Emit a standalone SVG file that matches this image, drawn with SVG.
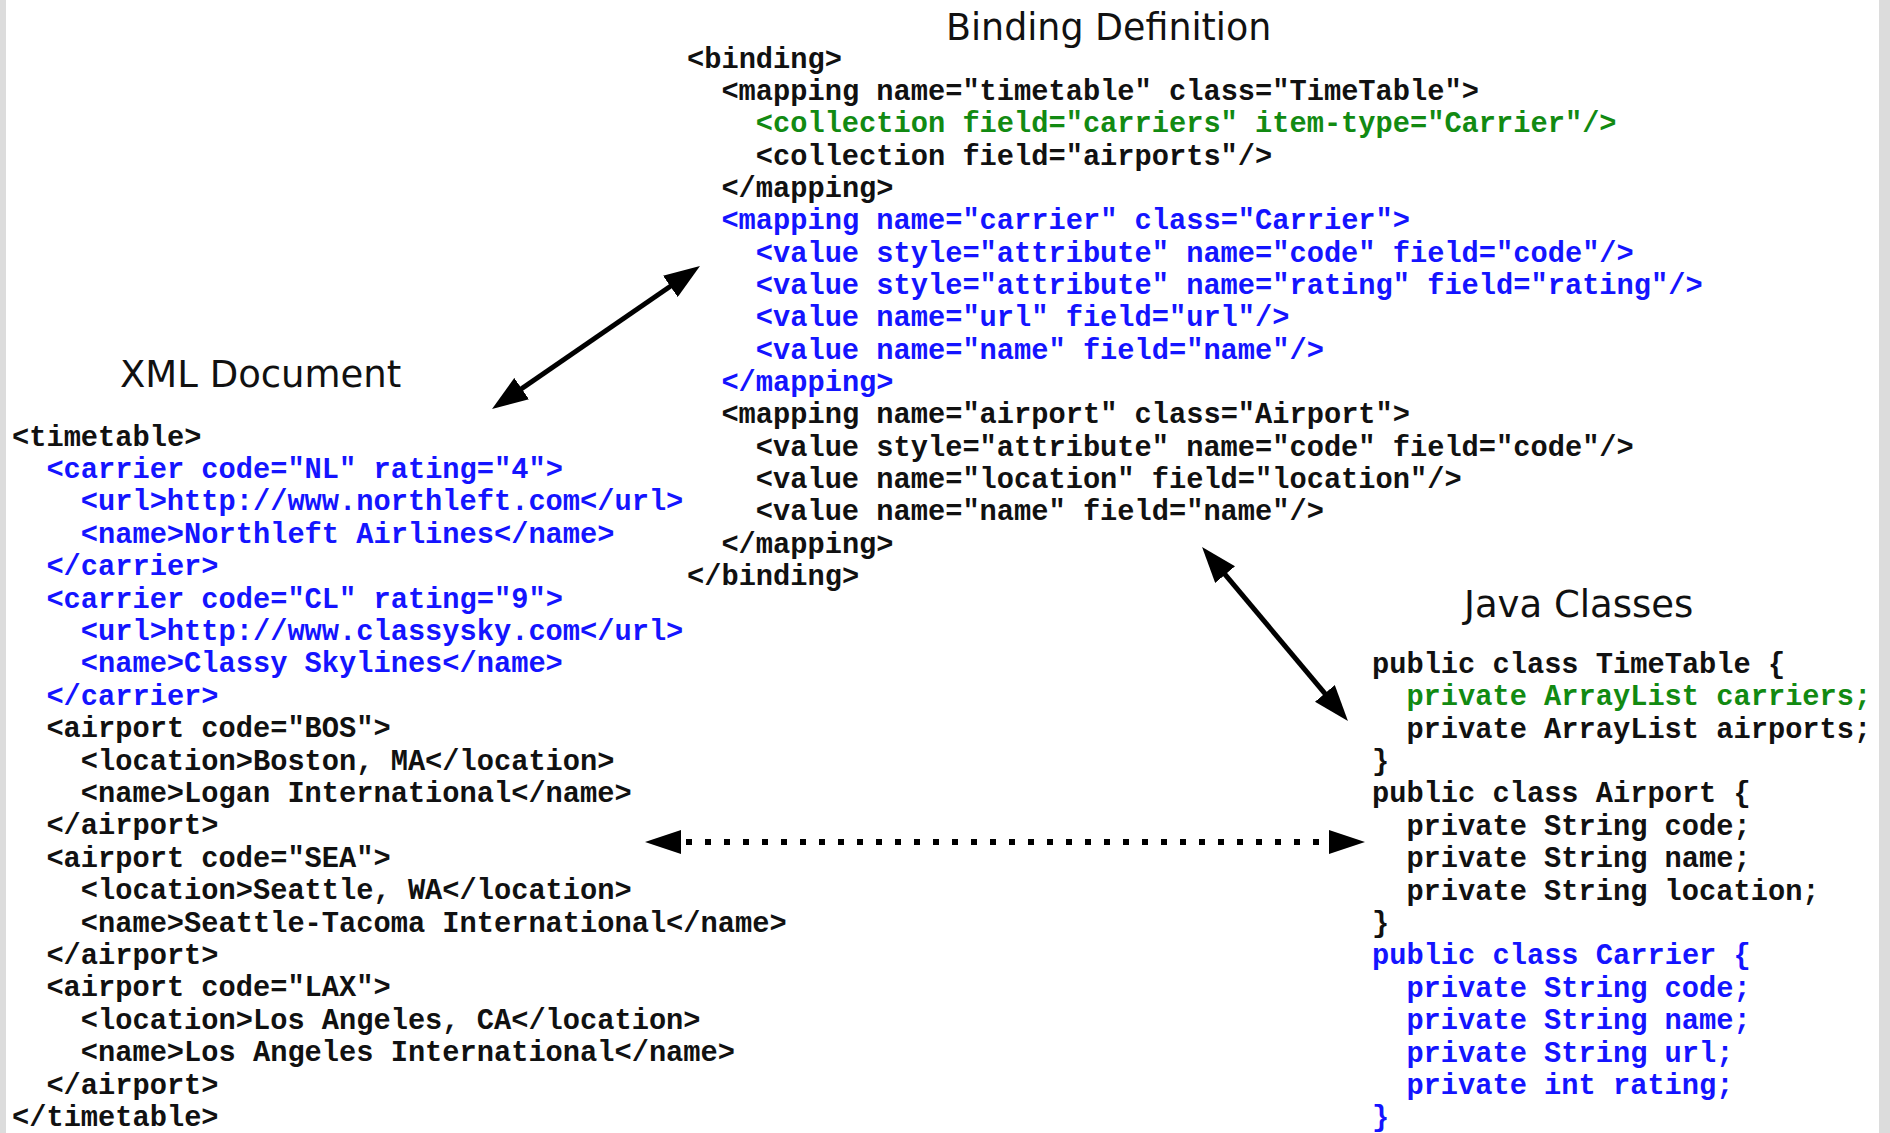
<svg xmlns="http://www.w3.org/2000/svg" width="1890" height="1133" viewBox="0 0 1890 1133">
<style>
.bg{fill:#ffffff}
.edge{fill:#dcdcdc}
.title{font-family:"DejaVu Sans",Verdana,sans-serif;font-size:37px;fill:#111111}
.code{font-family:"Liberation Mono","Courier New",monospace;font-size:28.7px;font-weight:bold;fill:#111111}
.blue{fill:#1414ff}
.green{fill:#128a12}
.conn{stroke:#000000;stroke-width:5;fill:none}
.dots{stroke:#000000;stroke-width:6;stroke-dasharray:6 13;fill:none}
</style>
<defs>
<marker id="head" viewBox="0 0 36 26" refX="16" refY="13" markerWidth="36" markerHeight="26" markerUnits="userSpaceOnUse" orient="auto-start-reverse">
<path d="M0,0 L36,13 L0,26 z" fill="#000000"/>
</marker>
<marker id="headDot" viewBox="0 0 36 24" refX="-5" refY="12" markerWidth="36" markerHeight="24" markerUnits="userSpaceOnUse" orient="auto-start-reverse">
<path d="M0,0 L36,12 L0,24 z" fill="#000000"/>
</marker>
</defs>
<rect class="bg" x="0" y="0" width="1890" height="1133"/>
<rect class="edge" x="0" y="0" width="6" height="1133"/>
<rect class="edge" x="1879" y="0" width="11" height="1133"/>

<g id="connectors">
<line class="conn" x1="508.5" y1="397.7" x2="683.5" y2="277.3" marker-start="url(#head)" marker-end="url(#head)"/>
<line class="conn" x1="1214.9" y1="562.3" x2="1335.1" y2="705.7" marker-start="url(#head)" marker-end="url(#head)"/>
<line class="dots" x1="686" y1="842" x2="1324" y2="842" marker-start="url(#headDot)" marker-end="url(#headDot)"/>
</g>

<g id="xml-document">
<text class="title" x="120" y="387">XML Document</text>
<g transform="translate(0,2.5)">
<text class="code" x="12" y="443">&lt;timetable&gt;</text>
<text class="code blue" x="46.4" y="475.4">&lt;carrier code="NL" rating="4"&gt;</text>
<text class="code blue" x="80.8" y="507.8">&lt;url&gt;http://www.northleft.com&lt;/url&gt;</text>
<text class="code blue" x="80.8" y="540.2">&lt;name&gt;Northleft Airlines&lt;/name&gt;</text>
<text class="code blue" x="46.4" y="572.6">&lt;/carrier&gt;</text>
<text class="code blue" x="46.4" y="605">&lt;carrier code="CL" rating="9"&gt;</text>
<text class="code blue" x="80.8" y="637.4">&lt;url&gt;http://www.classysky.com&lt;/url&gt;</text>
<text class="code blue" x="80.8" y="669.8">&lt;name&gt;Classy Skylines&lt;/name&gt;</text>
<text class="code blue" x="46.4" y="702.2">&lt;/carrier&gt;</text>
<text class="code" x="46.4" y="734.6">&lt;airport code="BOS"&gt;</text>
<text class="code" x="80.8" y="767">&lt;location&gt;Boston, MA&lt;/location&gt;</text>
<text class="code" x="80.8" y="799.4">&lt;name&gt;Logan International&lt;/name&gt;</text>
<text class="code" x="46.4" y="831.8">&lt;/airport&gt;</text>
<text class="code" x="46.4" y="864.2">&lt;airport code="SEA"&gt;</text>
<text class="code" x="80.8" y="896.6">&lt;location&gt;Seattle, WA&lt;/location&gt;</text>
<text class="code" x="80.8" y="929">&lt;name&gt;Seattle-Tacoma International&lt;/name&gt;</text>
<text class="code" x="46.4" y="961.4">&lt;/airport&gt;</text>
<text class="code" x="46.4" y="993.8">&lt;airport code="LAX"&gt;</text>
<text class="code" x="80.8" y="1026.2">&lt;location&gt;Los Angeles, CA&lt;/location&gt;</text>
<text class="code" x="80.8" y="1058.6">&lt;name&gt;Los Angeles International&lt;/name&gt;</text>
<text class="code" x="46.4" y="1091">&lt;/airport&gt;</text>
<text class="code" x="12" y="1123.4">&lt;/timetable&gt;</text>
</g>
</g>

<g id="binding-definition">
<text class="title" x="946" y="40" style="font-size:36.4px">Binding Definition</text>
<g transform="translate(0,1.5)">
<text class="code" x="687" y="66">&lt;binding&gt;</text>
<text class="code" x="721.4" y="98.35">&lt;mapping name="timetable" class="TimeTable"&gt;</text>
<text class="code green" x="755.8" y="130.7">&lt;collection field="carriers" item-type="Carrier"/&gt;</text>
<text class="code" x="755.8" y="163.05">&lt;collection field="airports"/&gt;</text>
<text class="code" x="721.4" y="195.4">&lt;/mapping&gt;</text>
<text class="code blue" x="721.4" y="227.75">&lt;mapping name="carrier" class="Carrier"&gt;</text>
<text class="code blue" x="755.8" y="260.1">&lt;value style="attribute" name="code" field="code"/&gt;</text>
<text class="code blue" x="755.8" y="292.45">&lt;value style="attribute" name="rating" field="rating"/&gt;</text>
<text class="code blue" x="755.8" y="324.8">&lt;value name="url" field="url"/&gt;</text>
<text class="code blue" x="755.8" y="357.15">&lt;value name="name" field="name"/&gt;</text>
<text class="code blue" x="721.4" y="389.5">&lt;/mapping&gt;</text>
<text class="code" x="721.4" y="421.85">&lt;mapping name="airport" class="Airport"&gt;</text>
<text class="code" x="755.8" y="454.2">&lt;value style="attribute" name="code" field="code"/&gt;</text>
<text class="code" x="755.8" y="486.55">&lt;value name="location" field="location"/&gt;</text>
<text class="code" x="755.8" y="518.9">&lt;value name="name" field="name"/&gt;</text>
<text class="code" x="721.4" y="551.25">&lt;/mapping&gt;</text>
<text class="code" x="687" y="583.6">&lt;/binding&gt;</text>
</g>
</g>

<g id="java-classes">
<text class="title" x="1464" y="617">Java Classes</text>
<g transform="translate(0,3)">
<text class="code" x="1372" y="669.8">public class TimeTable {</text>
<text class="code green" x="1406.4" y="702.2">private ArrayList carriers;</text>
<text class="code" x="1406.4" y="734.6">private ArrayList airports;</text>
<text class="code" x="1372" y="767">}</text>
<text class="code" x="1372" y="799.4">public class Airport {</text>
<text class="code" x="1406.4" y="831.8">private String code;</text>
<text class="code" x="1406.4" y="864.2">private String name;</text>
<text class="code" x="1406.4" y="896.6">private String location;</text>
<text class="code" x="1372" y="929">}</text>
<text class="code blue" x="1372" y="961.4">public class Carrier {</text>
<text class="code blue" x="1406.4" y="993.8">private String code;</text>
<text class="code blue" x="1406.4" y="1026.2">private String name;</text>
<text class="code blue" x="1406.4" y="1058.6">private String url;</text>
<text class="code blue" x="1406.4" y="1091">private int rating;</text>
<text class="code blue" x="1372" y="1123.4">}</text>
</g>
</g>
</svg>
